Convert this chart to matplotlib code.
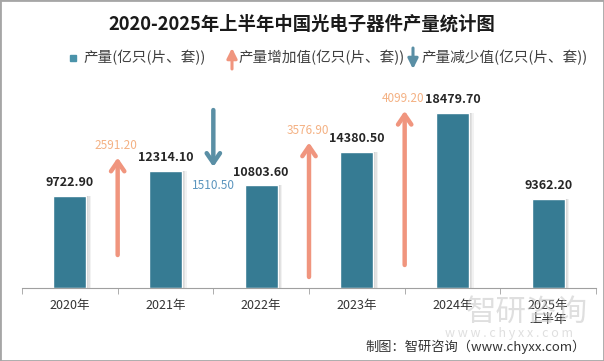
import matplotlib.pyplot as plt
from matplotlib.patches import Rectangle, FancyArrowPatch

plt.rcParams['font.family'] = ['Noto Sans CJK SC', 'DejaVu Sans']

# data
years = ['2020年', '2021年', '2022年', '2023年', '2024年', '2025年\n上半年']
output = [9722.90, 12314.10, 10803.60, 14380.50, 18479.70, 9362.20]
# year-on-year changes (drawn between categories)
chg_pos = [0.5, 1.5, 2.5, 3.5]          # category boundaries
chg_val = [2591.20, -1510.50, 3576.90, 4099.20]
# where each arrow starts on the arrow axis (styling only)
arrow_start = [877, 4734, 293, 612]

bar_c = '#367B93'
up_c = '#F0957E'
down_c = '#5A8FA5'
up_txt = '#F4B183'
down_txt = '#5B95BE'

fig = plt.figure(figsize=(6.04, 3.61), dpi=100)
ax = fig.add_axes([22/604, 73/361, 574/604, 203/361])
x = range(len(years))

# soft shadow on the right of each bar
for off, a in [(0.05, 0.10), (0.035, 0.15), (0.02, 0.2)]:
    ax.bar([i + off for i in x], output, width=0.345, color='#888888',
           alpha=a, zorder=1, linewidth=0)
bars = ax.bar(x, output, width=0.345, color=bar_c, edgecolor='white',
              linewidth=1, zorder=2)
for i, v in enumerate(output):
    ax.annotate(f'{v:.2f}', (i, v), xytext=(0, 5), textcoords='offset points',
                ha='center', va='bottom', fontsize=9, fontweight='bold',
                color='#262626')

ax.set_xlim(-0.5, len(years) - 0.5)
ax.set_ylim(0, 21390)
ax.set_yticks([])
ax.set_xticks(x)
ax.set_xticklabels(years, fontsize=9, color='#333333', linespacing=1.1)
ax.set_xticks([i - 0.5 for i in range(len(years) + 1)], minor=True)
ax.tick_params(axis='x', which='major', length=0, pad=8)
ax.tick_params(axis='x', which='minor', length=4, color='#a0a0a0')
for s in ['top', 'left', 'right']:
    ax.spines[s].set_visible(False)
ax.spines['bottom'].set_color('#a0a0a0')

# arrows on a second scale
ax2 = ax.twinx()
ax2.set_ylim(0, 5400)
ax2.axis('off')
for xp, v, st in zip(chg_pos, chg_val, arrow_start):
    col = up_c if v > 0 else down_c
    ax2.annotate('', xy=(xp, st + v), xytext=(xp, st),
                 arrowprops=dict(arrowstyle='->,head_length=0.35,head_width=0.24',
                                 color=col, lw=3.2, mutation_scale=20,
                                 shrinkA=0, shrinkB=0))
    if v > 0:
        ax2.annotate(f'{v:.2f}', (xp, st + v), xytext=(-1, 4),
                     textcoords='offset points', ha='center', va='bottom',
                     fontsize=8.5, color=up_txt)
    else:
        ax2.annotate(f'{-v:.2f}', (xp, st + v), xytext=(0, -9),
                     textcoords='offset points', ha='center', va='top',
                     fontsize=8.5, color=down_txt)

# title
fig.text(302/604, 1 - 24/361, '2020-2025年上半年中国光电子器件产量统计图',
         ha='center', va='center', fontsize=13.2, fontweight='bold',
         color='#1a1a1a')

# legend drawn by hand
ly = 1 - 58/361
fig.add_artist(Rectangle((70/604, ly - 3/361), 6/604, 6/361,
                         transform=fig.transFigure, color='#4A93AA'))
fig.text(83/604, ly, '产量(亿只(片、套))', ha='left', va='center',
         fontsize=10.5, color='#404040')
fig.add_artist(FancyArrowPatch((232/604, 1 - 69/361), (232/604, 1 - 48/361),
                               transform=fig.transFigure,
                               arrowstyle='-|>,head_length=0.6,head_width=0.3',
                               mutation_scale=10, color=up_c, lw=2.2,
                               shrinkA=0, shrinkB=0))
fig.text(238/604, ly, '产量增加值(亿只(片、套))', ha='left', va='center',
         fontsize=10.5, color='#404040')
fig.add_artist(FancyArrowPatch((413/604, 1 - 48/361), (413/604, 1 - 69/361),
                               transform=fig.transFigure,
                               arrowstyle='-|>,head_length=0.6,head_width=0.3',
                               mutation_scale=10, color=down_c, lw=2.2,
                               shrinkA=0, shrinkB=0))
fig.text(421/604, ly, '产量减少值(亿只(片、套))', ha='left', va='center',
         fontsize=10.5, color='#404040')

# watermark
fig.text(527/604, 1 - 312/361, '智研咨询', ha='center', va='center',
         fontsize=22, color='#c0c0c0', alpha=0.5)
fig.text(509/604, 1 - 333/361, 'w w w . c h y x x . c o m', ha='center',
         va='center', fontsize=9, color='#c0c0c0', alpha=0.5)

# source
fig.text(586/604, 1 - 347/361, '制图：智研咨询（www.chyxx.com）', ha='right',
         va='center', fontsize=9.5, color='#333333')

# frame
fig.add_artist(Rectangle((0, 0), 1, 1, transform=fig.transFigure, fill=False,
                         edgecolor='#a6a6a6', lw=2))

fig.savefig('out.png', dpi=100)
